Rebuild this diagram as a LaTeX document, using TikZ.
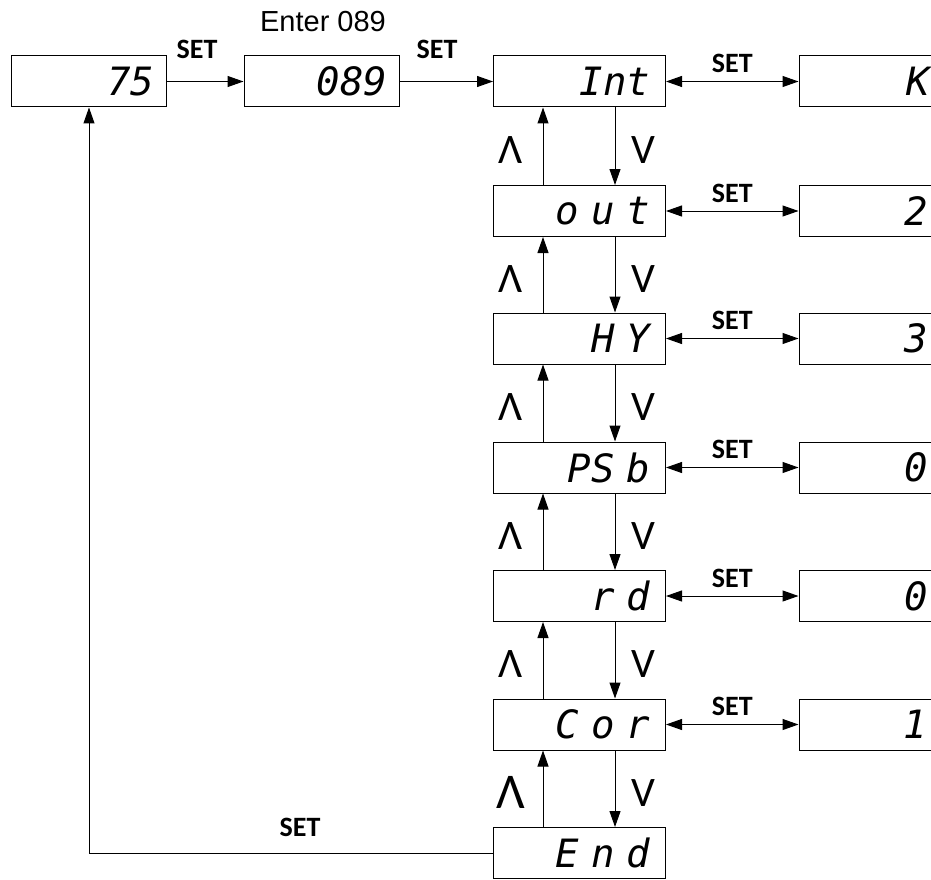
\documentclass[tikz,border=0pt]{standalone}
\usepackage{fontspec}
\setmainfont{Carlito}
\newfontfamily\segfont{DejaVu Sans Mono Oblique}
\newfontfamily\arialfont{Liberation Sans}
\usetikzlibrary{arrows.meta}
\newcommand\sg{\hspace{12pt}}

\begin{document}
\begin{tikzpicture}[x=1pt,y=-1pt,line width=1pt,
  box/.style={draw,minimum width=172pt,minimum height=51pt,inner sep=0pt,align=right,
    font=\segfont\fontsize{39}{39}\selectfont},
  setlbl/.style={font=\bfseries\fontsize{28}{28}\selectfont},
  updown/.style={font=\fontsize{42}{42}\selectfont},
  arw/.style={-{Triangle[length=16pt,width=11pt]}},
  darw/.style={{Triangle[length=16pt,width=11pt]}-{Triangle[length=16pt,width=11pt]}}]
\useasboundingbox (0,0) rectangle (931,880);

% password
\node[box,minimum width=155pt,text width=130pt] (pw) at (89,81.5) {75};
\node[box,minimum width=155pt,text width=131pt] (code) at (321.5,81.5) {089};
\node[font=\arialfont\fontsize{29}{29}\selectfont] (enter) at (323,22) {Enter 089};

% menu column
\node[box,text width=141pt] (int) at (579.5,81.5) {Int};
\node[box,text width=141pt] (out) at (579.5,211) {o\sg u\sg t};
\node[box,text width=141pt] (hy) at (579.5,338.5) {H\sg Y};
\node[box,text width=141pt] (psb) at (579.5,467.5) {PS\sg b};
\node[box,text width=141pt] (rd) at (579.5,596) {r\sg d};
\node[box,text width=141pt] (cor) at (579.5,724.5) {C\sg o\sg r};
\node[box,text width=141pt] (endm) at (579.5,853) {E\sg n\sg d};

% values
\node[box,text width=90pt] (vint) at (885,81.5) {K};
\node[box,text width=86pt] (vout) at (885,211) {2};
\node[box,text width=86pt] (vhy) at (885,338.5) {3};
\node[box,text width=86pt] (vpsb) at (885,467.5) {0};
\node[box,text width=86pt] (vrd) at (885,596) {0};
\node[box,text width=84pt] (vcor) at (885,724.5) {1};

\draw[arw] (pw) -- (code);
\node[setlbl] at (197,49) {SET};
\draw[arw] (code) -- (int);
\node[setlbl] at (437,49) {SET};

\foreach \a/\b in {int/out,out/hy,hy/psb,psb/rd,rd/cor}{
  \draw[arw] ([xshift=35.5pt]\a.south) -- ([xshift=35.5pt]\b.north);
  \draw[arw] ([xshift=-36.5pt]\b.north) -- ([xshift=-36.5pt]\a.south);
  \path (\a.south) -- node[updown,xshift=-68.5pt,yshift=-4pt] {Λ}
    node[updown,xshift=63.5pt,yshift=-4pt] {V} (\b.north);
}
\draw[arw] ([xshift=35.5pt]cor.south) -- ([xshift=35.5pt]endm.north);
\draw[arw] ([xshift=-36.5pt]endm.north) -- ([xshift=-36.5pt]cor.south);
\path (cor.south) -- node[updown,font=\fontsize{50}{50}\selectfont,xshift=-68.5pt,yshift=-4pt] {Λ}
  node[updown,xshift=63.5pt,yshift=-4pt] {V} (endm.north);

\foreach \a in {int,out,hy,psb,rd,cor}
  \draw[darw] (\a) -- node[setlbl,yshift=18pt] {SET} (v\a);

\draw[arw] (endm.west) -| (pw.south);
\node[setlbl] at (300,827) {SET};
\end{tikzpicture}
\end{document}
